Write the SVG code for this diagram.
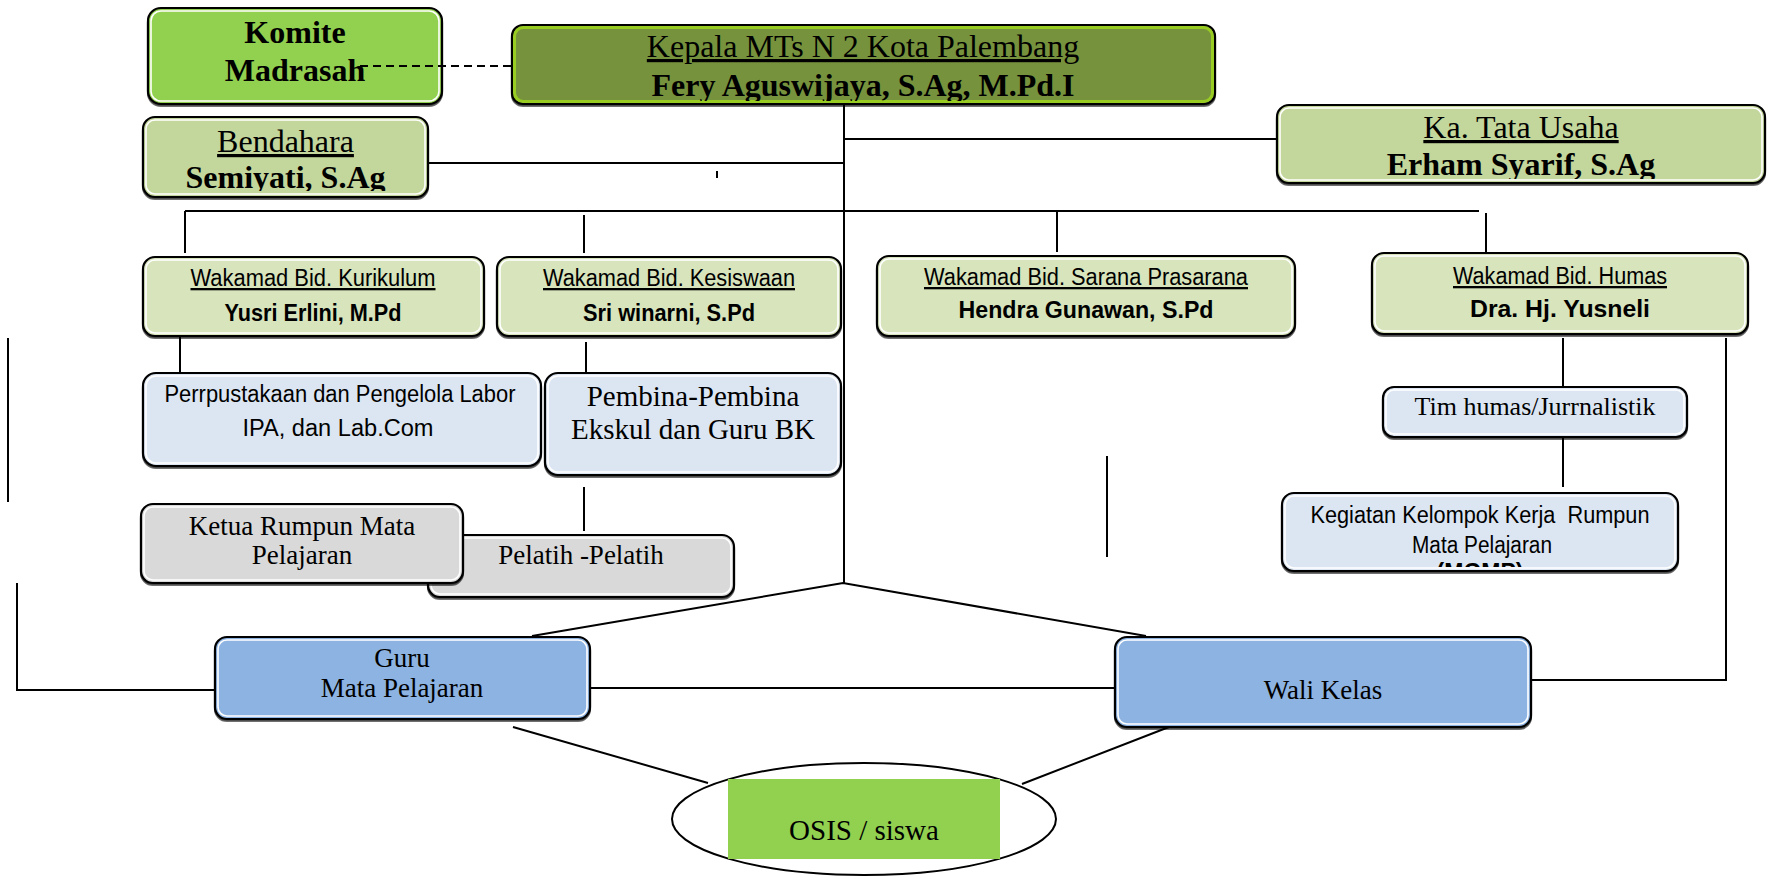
<svg xmlns="http://www.w3.org/2000/svg" width="1767" height="876" viewBox="0 0 1767 876">
<style>
.box{stroke:#000;stroke-width:2.2;filter:url(#sh)}
.inner{fill:none;stroke:#fff;stroke-width:1.6}
.ln{stroke:#000;stroke-width:2;fill:none}
.serif{font-family:"Liberation Serif","Times New Roman",serif;fill:#000;text-anchor:middle}
.sans{font-family:"Liberation Sans",Arial,sans-serif;fill:#000;text-anchor:middle}
.b{font-weight:bold}
.u{text-decoration:underline}
.t32{font-size:32px}
.s23{font-size:23px}
.s24{font-size:24px}
.t29{font-size:29px}
.t27{font-size:27px}
.t26{font-size:26px}
</style>
<defs>
<filter id="sh" x="-5%" y="-5%" width="110%" height="120%">
<feDropShadow dx="0" dy="1.8" stdDeviation="0.4" flood-color="#000" flood-opacity="0.7"/>
</filter>
<clipPath id="cKep"><rect x="512" y="25" width="703" height="76"/></clipPath>
<clipPath id="cBen"><rect x="143" y="117" width="285" height="74"/></clipPath>
<clipPath id="cTU"><rect x="1277" y="105" width="488" height="74"/></clipPath>
<clipPath id="cKeg"><rect x="1282" y="493" width="396" height="74"/></clipPath>
</defs>
<rect width="1767" height="876" fill="#fff"/>

<g id="komite">
<rect class="box" x="148" y="8" width="294" height="96" rx="13" fill="#92D050"/>
<rect class="inner" x="151" y="11" width="288" height="90" rx="10"/>
<text class="serif b t32" x="295" y="43">Komite</text>
<text class="serif b t32" x="295" y="81">Madrasah</text>
</g>

<g id="kepala">
<rect class="box" x="512" y="25" width="703" height="79" rx="11" fill="#76923C"/>
<rect x="514.5" y="27.5" width="698" height="74" rx="9" fill="none" stroke="#99CC22" stroke-width="3"/>
<g clip-path="url(#cKep)">
<text class="serif t32 u" x="863" y="57">Kepala MTs N 2 Kota Palembang</text>
<text class="serif b t32" x="863" y="96">Fery Aguswijaya, S.Ag, M.Pd.I</text>
</g>
</g>

<g id="bendahara">
<rect class="box" x="143" y="117" width="285" height="80" rx="12" fill="#C3D69B"/>
<rect class="inner" x="146" y="120" width="279" height="74" rx="9"/>
<g clip-path="url(#cBen)">
<text class="serif t32 u" x="285.5" y="152">Bendahara</text>
<text class="serif b t32" x="285.5" y="188">Semiyati, S.Ag</text>
</g>
</g>

<g id="tatausaha">
<rect class="box" x="1277" y="105" width="488" height="78" rx="12" fill="#C3D69B"/>
<rect class="inner" x="1280" y="108" width="482" height="72" rx="9"/>
<g clip-path="url(#cTU)">
<text class="serif t32 u" x="1521" y="138">Ka. Tata Usaha</text>
<text class="serif b t32" x="1521" y="175">Erham Syarif, S.Ag</text>
</g>
</g>

<g id="kurikulum">
<rect class="box" x="143" y="257" width="341" height="79" rx="12" fill="#D7E4BC"/>
<rect class="inner" x="146" y="260" width="335" height="73" rx="9"/>
<text class="sans s23 u" x="313" y="286" textLength="245" lengthAdjust="spacingAndGlyphs">Wakamad Bid. Kurikulum</text>
<text class="sans s24 b" x="313" y="321" textLength="177" lengthAdjust="spacingAndGlyphs">Yusri Erlini, M.Pd</text>
</g>

<g id="kesiswaan">
<rect class="box" x="497" y="257" width="344" height="79" rx="12" fill="#D7E4BC"/>
<rect class="inner" x="500" y="260" width="338" height="73" rx="9"/>
<text class="sans s23 u" x="669" y="286" textLength="252" lengthAdjust="spacingAndGlyphs">Wakamad Bid. Kesiswaan</text>
<text class="sans s24 b" x="669" y="321" textLength="172" lengthAdjust="spacingAndGlyphs">Sri winarni, S.Pd</text>
</g>

<g id="sarana">
<rect class="box" x="877" y="256" width="418" height="80" rx="12" fill="#D7E4BC"/>
<rect class="inner" x="880" y="259" width="412" height="74" rx="9"/>
<text class="sans s23 u" x="1086" y="285" textLength="324" lengthAdjust="spacingAndGlyphs">Wakamad Bid. Sarana Prasarana</text>
<text class="sans s24 b" x="1086" y="318" textLength="255" lengthAdjust="spacingAndGlyphs">Hendra Gunawan, S.Pd</text>
</g>

<g id="humas">
<rect class="box" x="1372" y="253" width="376" height="81" rx="12" fill="#D7E4BC"/>
<rect class="inner" x="1375" y="256" width="370" height="75" rx="9"/>
<text class="sans s23 u" x="1560" y="284" textLength="214" lengthAdjust="spacingAndGlyphs">Wakamad Bid. Humas</text>
<text class="sans s24 b" x="1560" y="317" textLength="180" lengthAdjust="spacingAndGlyphs">Dra. Hj. Yusneli</text>
</g>

<g id="perpustakaan">
<rect class="box" x="143" y="373" width="398" height="93" rx="13" fill="#DCE6F2"/>
<rect class="inner" x="146" y="376" width="392" height="87" rx="10"/>
<text class="sans s23" x="340" y="402" textLength="351" lengthAdjust="spacingAndGlyphs">Perrpustakaan dan Pengelola Labor</text>
<text class="sans s23" x="338" y="436" textLength="191" lengthAdjust="spacingAndGlyphs">IPA, dan Lab.Com</text>
</g>

<g id="pembina">
<rect class="box" x="545" y="373" width="296" height="102" rx="13" fill="#DCE6F2"/>
<rect class="inner" x="548" y="376" width="290" height="96" rx="10"/>
<text class="serif t29" x="693" y="406">Pembina-Pembina</text>
<text class="serif t29" x="693" y="439">Ekskul dan Guru BK</text>
</g>

<g id="pelatih">
<rect class="box" x="428" y="535" width="306" height="62" rx="12" fill="#D9D9D9"/>
<rect class="inner" x="431" y="538" width="300" height="56" rx="9"/>
<text class="serif t27" x="581" y="564">Pelatih -Pelatih</text>
</g>

<g id="ketua">
<rect class="box" x="141" y="504" width="322" height="79" rx="12" fill="#D9D9D9"/>
<rect class="inner" x="144" y="507" width="316" height="73" rx="9"/>
<text class="serif t27" x="302" y="535">Ketua Rumpun Mata</text>
<text class="serif t27" x="302" y="564">Pelajaran</text>
</g>

<g id="timhumas">
<rect class="box" x="1383" y="387" width="304" height="50" rx="11" fill="#DCE6F2"/>
<rect class="inner" x="1386" y="390" width="298" height="44" rx="8"/>
<text class="serif t26" x="1535" y="415">Tim humas/Jurrnalistik</text>
</g>

<g id="kegiatan">
<rect class="box" x="1282" y="493" width="396" height="78" rx="12" fill="#DCE6F2"/>
<rect class="inner" x="1285" y="496" width="390" height="72" rx="9"/>
<g clip-path="url(#cKeg)">
<text class="sans s23" x="1480" y="523" textLength="339" lengthAdjust="spacingAndGlyphs" xml:space="preserve">Kegiatan Kelompok Kerja  Rumpun</text>
<text class="sans s23" x="1482" y="553" textLength="140" lengthAdjust="spacingAndGlyphs">Mata Pelajaran</text>
<text class="sans s23 b" x="1480" y="580">(MGMP)</text>
</g>
</g>

<g id="guru">
<rect class="box" x="215" y="637" width="375" height="82" rx="12" fill="#8DB3E2"/>
<rect class="inner" x="218" y="640" width="369" height="76" rx="9"/>
<text class="serif t27" x="402" y="667">Guru</text>
<text class="serif t27" x="402" y="697">Mata Pelajaran</text>
</g>

<g id="walikelas">
<rect class="box" x="1115" y="637" width="416" height="90" rx="12" fill="#8DB3E2"/>
<rect class="inner" x="1118" y="640" width="410" height="84" rx="9"/>
<text class="serif t27" x="1323" y="699">Wali Kelas</text>
</g>

<g id="osis">
<ellipse cx="864" cy="819" rx="192" ry="56" fill="#fff" stroke="#000" stroke-width="2"/>
<rect x="728" y="779" width="272" height="80" fill="#92D050"/>
<text class="serif t29" x="864" y="840">OSIS / siswa</text>
</g>

<g id="connectors">
<path class="ln" d="M360 66H512" stroke-dasharray="8 5"/>
<path class="ln" d="M844 104V583"/>
<path class="ln" d="M844 139H1277"/>
<path class="ln" d="M428 163H844"/>
<path class="ln" d="M717 171V178" stroke-width="1.5"/>
<path class="ln" d="M185 211H1479"/>
<path class="ln" d="M185 211V253M584 215V253M1057 211V252M1486 213V252"/>
<path class="ln" d="M180 336V372M586 342V372M584 487V531"/>
<path class="ln" d="M8 338V502"/>
<path class="ln" d="M17 583V690H215"/>
<path class="ln" d="M590 688H1115"/>
<path class="ln" d="M1531 680H1726V338"/>
<path class="ln" d="M1563 338V387M1563 437V487"/>
<path class="ln" d="M1107 456V557"/>
<path class="ln" d="M532 636L843 583L1146 636"/>
<path class="ln" d="M513 727L708 783M1169 727L1022 784"/>
</g>
</svg>
